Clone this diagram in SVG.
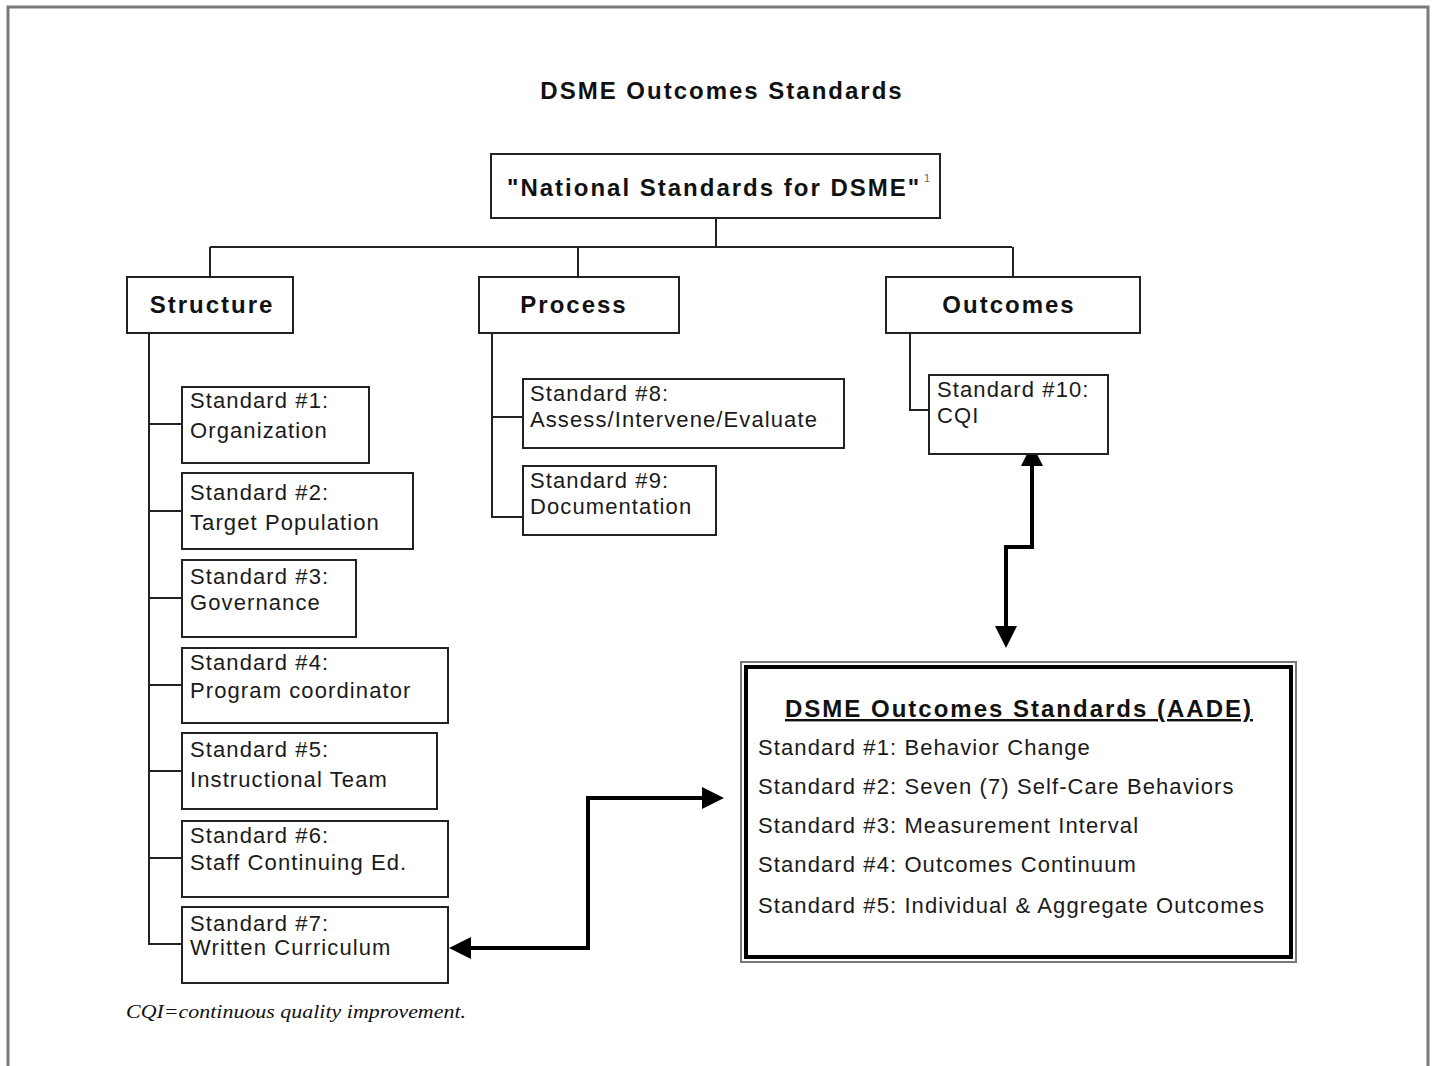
<svg xmlns="http://www.w3.org/2000/svg" width="1435" height="1066" viewBox="0 0 1435 1066">
<style>
.box{fill:#fff;stroke:#222;stroke-width:2}
.hdr{font-family:"Liberation Sans",Arial,sans-serif;font-weight:bold;font-size:24px;letter-spacing:2px;fill:#111}
.txt{font-family:"Liberation Sans",Arial,sans-serif;font-size:22px;letter-spacing:1.1px;fill:#1a1a1a}
.ln{fill:none;stroke:#222;stroke-width:2}
.arr{fill:none;stroke:#000;stroke-width:4}
.note{font-family:"Liberation Serif",serif;font-style:italic;font-size:19px;fill:#111}
</style>
<defs>
<marker id="ah" markerUnits="userSpaceOnUse" markerWidth="22" markerHeight="22" refX="0" refY="11" orient="auto-start-reverse">
<path d="M0,0 L22,11 L0,22 z" fill="#000"/>
</marker>
</defs>
<rect x="8" y="7" width="1420" height="1080" fill="#fff" stroke="#7a7a7a" stroke-width="3"/>
<text id="title" class="hdr" x="722" y="99" text-anchor="middle">DSME Outcomes Standards</text>

<g id="connectors">
<path class="ln" d="M716,218 V247"/>
<path class="ln" d="M210,247 H1012"/>
<path class="ln" d="M578,247 H716" stroke-width="3"/>
<path class="ln" d="M210,247 V277 M578,247 V277 M1013,247 V277"/>
<path class="ln" d="M149,333 V944 H182 M149,424 H182 M149,511 H182 M149,598 H182 M149,685 H182 M149,771 H182 M149,858 H182"/>
<path class="ln" d="M492,333 V517 H523 M492,417 H523"/>
<path class="ln" d="M910,333 V410 H929"/>
<path class="arr" d="M1032,466 V547 H1006 V626" marker-start="url(#ah)" marker-end="url(#ah)"/>
<path class="arr" d="M471,948 H588 V798 H702" marker-start="url(#ah)" marker-end="url(#ah)"/>
</g>

<g id="national">
<rect class="box" x="491" y="154" width="449" height="64"/>
<text class="hdr" x="507" y="196">"National Standards for DSME"</text>
<text x="924" y="182" font-family="Liberation Sans,Arial,sans-serif" font-size="11" fill="#666">1</text>
</g>
<g id="structure">
<rect class="box" x="127" y="277" width="166" height="56"/>
<text class="hdr" x="212" y="313" text-anchor="middle">Structure</text>
</g>
<g id="process">
<rect class="box" x="479" y="277" width="200" height="56"/>
<text class="hdr" x="574" y="313" text-anchor="middle">Process</text>
</g>
<g id="outcomes">
<rect class="box" x="886" y="277" width="254" height="56"/>
<text class="hdr" x="1009" y="313" text-anchor="middle">Outcomes</text>
</g>

<g id="std1"><rect class="box" x="182" y="387" width="187" height="76"/>
<text class="txt" x="190" y="408">Standard #1:</text><text class="txt" x="190" y="438">Organization</text></g>
<g id="std2"><rect class="box" x="182" y="473" width="231" height="76"/>
<text class="txt" x="190" y="500">Standard #2:</text><text class="txt" x="190" y="530">Target Population</text></g>
<g id="std3"><rect class="box" x="182" y="560" width="174" height="77"/>
<text class="txt" x="190" y="584">Standard #3:</text><text class="txt" x="190" y="610">Governance</text></g>
<g id="std4"><rect class="box" x="182" y="648" width="266" height="75"/>
<text class="txt" x="190" y="670">Standard #4:</text><text class="txt" x="190" y="698">Program coordinator</text></g>
<g id="std5"><rect class="box" x="182" y="733" width="255" height="76"/>
<text class="txt" x="190" y="757">Standard #5:</text><text class="txt" x="190" y="787">Instructional Team</text></g>
<g id="std6"><rect class="box" x="182" y="821" width="266" height="76"/>
<text class="txt" x="190" y="843">Standard #6:</text><text class="txt" x="190" y="870">Staff Continuing Ed.</text></g>
<g id="std7"><rect class="box" x="182" y="907" width="266" height="76"/>
<text class="txt" x="190" y="931">Standard #7:</text><text class="txt" x="190" y="955">Written Curriculum</text></g>

<g id="std8"><rect class="box" x="523" y="379" width="321" height="69"/>
<text class="txt" x="530" y="401">Standard #8:</text><text class="txt" x="530" y="427">Assess/Intervene/Evaluate</text></g>
<g id="std9"><rect class="box" x="523" y="466" width="193" height="69"/>
<text class="txt" x="530" y="488">Standard #9:</text><text class="txt" x="530" y="514">Documentation</text></g>

<g id="std10"><rect class="box" x="929" y="375" width="179" height="79"/>
<text class="txt" x="937" y="397">Standard #10:</text><text class="txt" x="937" y="423">CQI</text></g>

<g id="aade">
<rect x="741" y="662" width="555" height="300" fill="#fff" stroke="#777" stroke-width="2"/>
<rect x="746" y="667" width="545" height="290" fill="none" stroke="#000" stroke-width="4"/>
<text class="hdr" x="1019" y="717" text-anchor="middle" text-decoration="underline">DSME Outcomes Standards (AADE)</text>
<text class="txt" x="758" y="755">Standard #1: Behavior Change</text>
<text class="txt" x="758" y="794">Standard #2: Seven (7) Self-Care Behaviors</text>
<text class="txt" x="758" y="833">Standard #3: Measurement Interval</text>
<text class="txt" x="758" y="872">Standard #4: Outcomes Continuum</text>
<text class="txt" x="758" y="913">Standard #5: Individual &amp; Aggregate Outcomes</text>
</g>

<text id="footnote" class="note" x="126" y="1018" textLength="340" lengthAdjust="spacingAndGlyphs">CQI=continuous quality improvement.</text>
</svg>
